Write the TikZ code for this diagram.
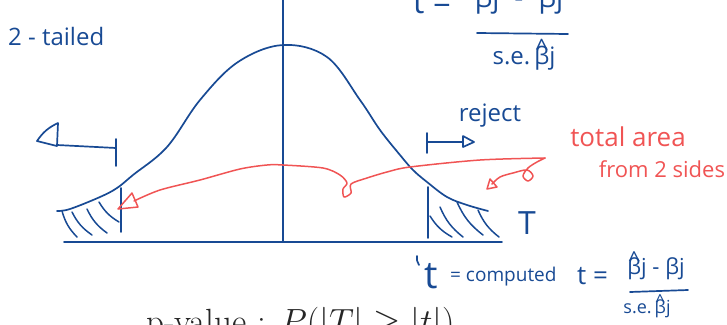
\documentclass[tikz,border=0pt]{standalone}
\usepackage{fix-cm}
\usepackage{fontspec}
\newfontfamily\hand{Open Sans}
\usetikzlibrary{positioning}
\definecolor{inkB}{RGB}{24,74,148}
\definecolor{inkR}{RGB}{240,84,84}
\newcommand{\bhat}{\ooalign{β\cr\hidewidth\raisebox{0.32em}{\textasciicircum}\hidewidth\cr}}

\begin{document}
\begin{tikzpicture}[x=1pt, y=-1pt,
  ink/.style={draw=inkB, line width=1.7pt, line cap=round, line join=round},
  redink/.style={draw=inkR, line width=1.5pt, line cap=round, line join=round},
  hatch/.style={ink, line width=1.5pt},
  hw/.style={text=inkB, font=\hand\fontsize{#1}{#1}\selectfont, inner sep=0pt},
  hwr/.style={text=inkR, font=\hand\fontsize{#1}{#1}\selectfont, inner sep=0pt},
]
\useasboundingbox (0,0) rectangle (727,324);
\clip (0,0) rectangle (727,324);

% ---------------- axes ----------------
\coordinate (axL) at (64,242);
\coordinate (axR) at (502,242);
\coordinate (mid) at (283,242);
\coordinate (midTop) at (283,-2);
\draw[ink] (axL) -- (axR);
\draw[ink] (mid) -- (midTop);

% ---------------- bell curve ----------------
\draw[ink] plot[smooth, tension=0.6] coordinates {(57,211) (70,209) (100,197)
  (117,188) (133,175) (167,147) (200,100) (238,62) (283,45) (327,57) (360,100)
  (380,130) (400,155) (413,170) (427,182) (447,197) (467,205) (488,211)};

% ---------------- critical values and shaded tails ----------------
\draw[ink] (121,188) -- (121,232);
\draw[ink] (428,187) -- (428,238);
\foreach \xa/\ya/\xb/\yb in {62/211/77/237, 72/212/92/235, 87/209/107/233, 99/202/119/222,
  430/216/452/237, 440/207/463/237, 457/202/483/235, 478/210/499/237}
  \draw[hatch] (\xa,\ya) to[bend right=14] (\xb,\yb);

% ---------------- rejection arrows ----------------
\draw[ink] (116,139) -- (116,166);
\draw[ink] (116,148) -- (57,145);
\draw[ink] (37,141) to[bend left=15] (58,123) -- (57,146) -- cycle;
\draw[ink] (427,133) -- (427,153);
\draw[ink] (427,142) -- (463,142);
\draw[ink] (463,136) -- (474,142) -- (463,147) -- cycle;
\node[hw=24] (reject) at (490,116) {reject};

% ---------------- labels ----------------
\node[hw=24, anchor=west] (tails) at (8,36) {2 - tailed};
\node[hw=32] (bigT) at (527,223) {T};
\node[hwr=26] (totArea) at (628,137) {total area};
\node[hwr=22] (twoSides) at (662,169) {from 2 sides};

% ---------------- red arrows ----------------
\coordinate (srcR) at (545,158);
\draw[redink] plot[smooth, tension=0.5] coordinates {(srcR) (480,160) (410,167)
  (387,172) (367,178) (351,184) (351,193) (344,197) (343,189) (347,183)
  (340,175) (323,168) (283,165) (267,165) (240,169) (200,180) (160,190) (134,201)};
\draw[redink] (118,209) -- (132,193) -- (138,207) -- cycle;
\draw[redink] plot[smooth, tension=0.55] coordinates {(srcR) (537,162) (528,168)
  (523,176) (528,181) (533,176) (527,170) (513,173) (500,177) (492,184)};
\draw[redink] (487,189) -- (490,179) -- (497,187) -- cycle;

% ---------------- test statistic (top) ----------------
\node[hw=32, anchor=base west] (tTop) at (413,13) {t =};
\node[hw=28, anchor=base] (numTop) at (519,8) {\bhat j\; - \;βj};
\draw[ink] (477,33) -- (568,34);
\node[hw=24] (denTop) at (524,58) {s.e.\,\bhat j};

% ---------------- computed t (bottom) ----------------
\draw[ink] (417,256) to[bend right=20] (419,265);
\node[hw=38] (tComp) at (431,276) {t};
\node[hw=19, anchor=west] (compd) at (450,277) {= computed};
\node[hw=26, anchor=west] (tEq) at (577,276) {t =};
\node[hw=22] (numBot) at (656,269) {\bhat j - βj};
\draw[ink] (630,292) -- (688,290);
\node[hw=18] (denBot) at (647,309) {s.e.\,\bhat j};

% ---------------- p-value ----------------
\node[font=\fontsize{35}{40}\selectfont, text=black!85, anchor=base west, inner sep=0pt]
  (pval) at (146,333) {p-value : $P(|T| \geq |t|)$};
\end{tikzpicture}
\end{document}
